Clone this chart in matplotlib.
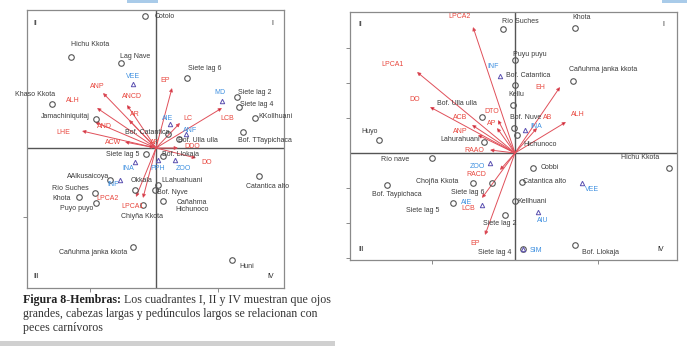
import matplotlib
matplotlib.use("Agg")
import matplotlib.pyplot as plt
from matplotlib.patches import Rectangle

# ---------------- DATA ----------------
# Left biplot: sites (circles)
L_site_names = ["Cotolo", "Hichu Kkota", "Lag Nave", "Khaso Kkota", "Jamachiniquitaj",
                "Bof. Catantica", "Siete lag 6", "Siete lag 2", "Siete lag 4", "KKollhuani",
                "Bof. TTaypichaca", "Bof. Ulla ulla", "Siete lag 5", "Bof. Llokaja",
                "AAlkusaicoya", "Okkala", "LLahuahuani", "Bof. Nyve", "Cañahma\nHichunoco",
                "Río Suches", "Khota", "Puyo puyo", "Chiyña Kkota", "Cañuhma janka kkota",
                "Catantica alto", "Huni"]
L_site_x = [-0.22, -1.70, -0.70, -2.08, -1.20, 0.24, 0.62, 1.62, 1.66, 1.98, 1.74, 0.46,
            -0.20, 0.14, -0.92, -0.42, 0.04, -0.02, 0.14, -1.22, -1.54, -1.20, -0.26,
            -0.46, 2.06, 1.52]
L_site_y = [2.64, 1.82, 1.70, 0.88, 0.58, 0.28, 1.40, 1.02, 0.82, 0.60, 0.32, 0.18,
            -0.12, -0.16, -0.64, -0.84, -0.74, -0.84, -1.06, -0.90, -0.98, -1.10, -1.14,
            -1.98, -0.56, -2.24]
# Left biplot: variables (red arrows)
L_var_names = ["ANP", "ANCD", "AR", "ALH", "AND", "LHE", "ACW", "EP", "LC", "LCB", "AP",
               "DDO", "DO", "LPCA2", "LPCA1"]
L_var_x = [-1.06, -0.58, -0.54, -1.18, -1.22, -1.48, -0.62, 0.32, 0.48, 1.32, -0.16,
           0.44, 0.80, -0.40, -0.26]
L_var_y = [1.10, 0.86, 0.56, 0.80, 0.52, 0.34, 0.12, 1.20, 0.50, 0.80, 0.04,
           0.00, -0.20, -0.98, -1.00]
# Left biplot: species (blue triangles)
L_sp_names = ["VEE", "AIE", "MD", "ANF", "ZOO", "INA", "PPH", "INF"]
L_sp_x = [-0.46, 0.28, 1.32, 0.60, 0.38, -0.42, 0.04, -0.72]
L_sp_y = [1.28, 0.48, 0.94, 0.28, -0.24, -0.28, -0.24, -0.64]

# Right biplot: sites
R_site_names = ["Río Suches", "Khota", "Puyu puyu", "Cañuhma janka kkota", "Bof. Catantica",
                "Kellu", "Bof. Ulla ulla", "Bof. Nuve", "Hichunoco", "Huyo", "Lahurahuani",
                "Río nave", "Cobbi", "Hichu Kkota", "Catantica alto", "Chojña Kkota",
                "Bof. Taypichaca", "Siete lag 6", "Siete lag 5", "Kellhuani", "Siete lag 2",
                "Siete lag 4", "Bof. Llokaja"]
R_site_x = [-0.24, 1.20, 0.00, 1.16, 0.00, -0.04, -0.66, -0.02, 0.04, -2.72, -0.62,
            -1.66, 0.36, 3.08, 0.14, -0.84, -2.56, -0.46, -1.24, 0.00, -0.20, 0.16, 1.20]
R_site_y = [2.48, 2.50, 1.86, 1.44, 1.36, 0.96, 0.72, 0.50, 0.36, 0.26, 0.22,
            -0.10, -0.30, -0.30, -0.58, -0.60, -0.64, -0.60, -1.00, -0.96, -1.24, -1.92, -1.84]
# Right biplot: variables
R_var_names = ["LPCA2", "LPCA1", "DO", "DTO", "ACB", "ANP", "RAAO", "AP", "EH", "ALH",
               "AB", "RACD", "LCB", "EP"]
R_var_x = [-0.84, -1.96, -1.70, -0.34, -0.86, -0.74, -0.50, -0.36, 0.90, 1.02,
           0.44, -0.30, -0.66, -0.60]
R_var_y = [2.52, 1.62, 0.92, 0.66, 0.56, 0.36, 0.06, 0.50, 1.32, 0.62,
           0.50, -0.34, -0.90, -1.64]
# Right biplot: species
R_sp_names = ["INF", "INA", "ZOO", "VEE", "AIU", "AIE", "SIM"]
R_sp_x = [-0.30, 0.20, -0.50, 1.34, 0.46, -0.66, 0.16]
R_sp_y = [1.54, 0.46, -0.20, -0.60, -1.18, -1.04, -1.92]

quadrants = ["I", "II", "III", "IV"]
caption_bold = "Figura 8-Hembras:"
caption_lines = [" Los cuadrantes I, II y IV muestran que ojos",
                 "grandes, cabezas largas y pedúnculos largos se relacionan con",
                 "peces carnívoros"]

# ---------------- LABEL OFFSETS (pixels, style) ----------------
L_site_off = [(20, 0), (19, 12), (14, 6), (-17, 10), (-31, 2), (-21, 1), (18, 10), (18, 5),
              (18, 2), (20, 1), (22, -8), (19, -1), (-23, -1), (17, 1), (-22, 4), (7, 10),
              (24, 4), (17, -2), (29, -5), (-25, 5), (-17, -2), (-19, -6), (-1, -11),
              (-40, -6), (9, -11), (15, -7)]
L_var_off = [(-6, 7), (5, 9), (6, 6), (-24, 8), (9, -5), (-19, -2), (-12, 0), (-7, 7),
             (8, 5), (5, -10), (7, 3), (14, 1), (11, -5), (-28, -1), (-11, -8)]
L_sp_off = [(0, 7), (-2, 6), (-2, 8), (4, 4), (8, -8), (-7, -6), (0, -8), (-7, -5)]
R_site_off = [(17, 7), (7, 10), (15, 5), (30, 11), (13, 9), (3, 10), (-25, 13), (12, 10),
              (23, -10), (-9, 8), (-24, 2), (-37, -2), (17, 0), (-29, 10), (23, 0),
              (-36, 1), (10, -10), (-24, -10), (-30, -8), (17, -1), (-5, -9), (-28, -3),
              (25, -7)]
R_var_off = [(-13, 10), (-25, 7), (-15, 7), (-6, 8), (-12, 7), (-18, 3), (-16, -1), (-5, 4),
             (-20, -1), (12, 7), (11, 10), (-24, -5), (-14, -11), (-10, -9)]
R_sp_off = [(-7, 9), (11, 3), (-13, -4), (10, -7), (5, -9), (-15, 2), (13, -1)]

W, H = 687, 349
fig = plt.figure(figsize=(W / 100, H / 100), dpi=100)
fig.patch.set_facecolor("white")

FONT = ["Liberation Sans", "DejaVu Sans"]
RED = "#e8453c"
ARROW = "#e0505a"
HEAD = "#a8102a"
BLUE = "#3d8fe0"
TRI = "#5a4fb0"
GRAY = "#3a3a3a"
FS = 5


def make_axes(box, xlim, ylim):
    x0, y0, x1, y1 = box
    ax = fig.add_axes([x0 / W, 1 - y1 / H, (x1 - x0) / W, (y1 - y0) / H])
    ax.set_xlim(*xlim)
    ax.set_ylim(*ylim)
    for s in ax.spines.values():
        s.set_color("#8a8a8a")
        s.set_linewidth(0.9)
    ax.axhline(0, color="#555555", lw=1.0, zorder=1)
    ax.axvline(0, color="#555555", lw=1.0, zorder=1)
    ax.tick_params(direction="out", length=3, width=0.7, colors="#8a8a8a",
                   labelbottom=False, labelleft=False)
    ax.set_facecolor("white")
    return ax


def draw_biplot(ax, sx, sy, sn, soff, vx, vy, vn, voff, px, py, pn, poff):
    for x, y in zip(vx, vy):
        ax.annotate("", xy=(x, y), xytext=(0, 0),
                    arrowprops=dict(arrowstyle="-|>", color=ARROW, lw=0.7,
                                    mutation_scale=5, shrinkA=0, shrinkB=0,
                                    fc=HEAD, ec=ARROW), zorder=3)
    for x, y, n, o in zip(vx, vy, vn, voff):
        ax.annotate(n, (x, y), xytext=o, textcoords="offset pixels", ha="center",
                    va="center", fontsize=FS, color=RED, family=FONT, zorder=5)
    ax.plot(sx, sy, "o", ms=4.0, mfc="none", mec="#555555", mew=0.8, zorder=4)
    for x, y, n, o in zip(sx, sy, sn, soff):
        ax.annotate(n, (x, y), xytext=o, textcoords="offset pixels", ha="center",
                    va="center", fontsize=FS, color=GRAY, family=FONT, zorder=5,
                    linespacing=1.0)
    ax.plot(px, py, "^", ms=3.2, mfc="none", mec=TRI, mew=0.7, zorder=4)
    for x, y, n, o in zip(px, py, pn, poff):
        ax.annotate(n, (x, y), xytext=o, textcoords="offset pixels", ha="center",
                    va="center", fontsize=FS, color=BLUE, family=FONT, zorder=5)


def quad_labels(ax):
    kw = dict(transform=ax.transAxes, fontsize=5, color="#222222", family=FONT)
    ax.text(0.96, 0.965, quadrants[0], ha="right", va="top", **kw)
    ax.text(0.025, 0.965, quadrants[1], ha="left", va="top", **kw)
    ax.text(0.025, 0.03, quadrants[2], ha="left", va="bottom", **kw)
    ax.text(0.96, 0.03, quadrants[3], ha="right", va="bottom", **kw)


# Left panel: box pixels (27,10)-(284,288), origin at (156,148), 50 px per unit
axL = make_axes((27, 10, 284, 288), (-129 / 50, 128 / 50), (-140 / 50, 138 / 50))
axL.set_xticks([-1.32, 1.24])
axL.set_yticks([-1.38])
draw_biplot(axL, L_site_x, L_site_y, L_site_names, L_site_off,
            L_var_x, L_var_y, L_var_names, L_var_off,
            L_sp_x, L_sp_y, L_sp_names, L_sp_off)
quad_labels(axL)

# Right panel: box pixels (350,12)-(677,260), origin at (515,153)
axR = make_axes((350, 12, 677, 260), (-165 / 50, 162 / 50), (-107 / 50, 141 / 50))
axR.set_xticks([-1.66, 1.66])
axR.set_yticks([-2.1, -1.4, -0.7, 0.7, 1.4, 2.1])
draw_biplot(axR, R_site_x, R_site_y, R_site_names, R_site_off,
            R_var_x, R_var_y, R_var_names, R_var_off,
            R_sp_x, R_sp_y, R_sp_names, R_sp_off)
quad_labels(axR)

# Caption
CFONT = ["Liberation Serif", "DejaVu Serif"]
CFS = 8.6
cy = [1 - 300 / H, 1 - 314 / H, 1 - 328 / H]
cx = 23 / W
tb = fig.text(cx, cy[0], caption_bold, fontsize=CFS, fontweight="bold", family=CFONT,
              color="#222222", va="center", ha="left")
fig.canvas.draw()
bb = tb.get_window_extent(fig.canvas.get_renderer())
fig.text(bb.x1 / W, cy[0], caption_lines[0], fontsize=CFS, family=CFONT, color="#333333",
         va="center", ha="left")
fig.text(cx, cy[1], caption_lines[1], fontsize=CFS, family=CFONT, color="#333333",
         va="center", ha="left")
fig.text(cx, cy[2], caption_lines[2], fontsize=CFS, family=CFONT, color="#333333",
         va="center", ha="left")

# decorative page elements
fig.patches.append(Rectangle((0, 1 - 346 / H), 335 / W, 5 / H, transform=fig.transFigure,
                             facecolor="#d0d0d0", edgecolor="none", zorder=0))
fig.patches.append(Rectangle((127 / W, 1 - 3 / H), 31 / W, 3 / H, transform=fig.transFigure,
                             facecolor="#a9cbe9", edgecolor="none"))
fig.patches.append(Rectangle((662 / W, 1 - 3 / H), 25 / W, 3 / H, transform=fig.transFigure,
                             facecolor="#a9cbe9", edgecolor="none"))

fig.savefig("out.png", dpi=100, facecolor=fig.get_facecolor())
